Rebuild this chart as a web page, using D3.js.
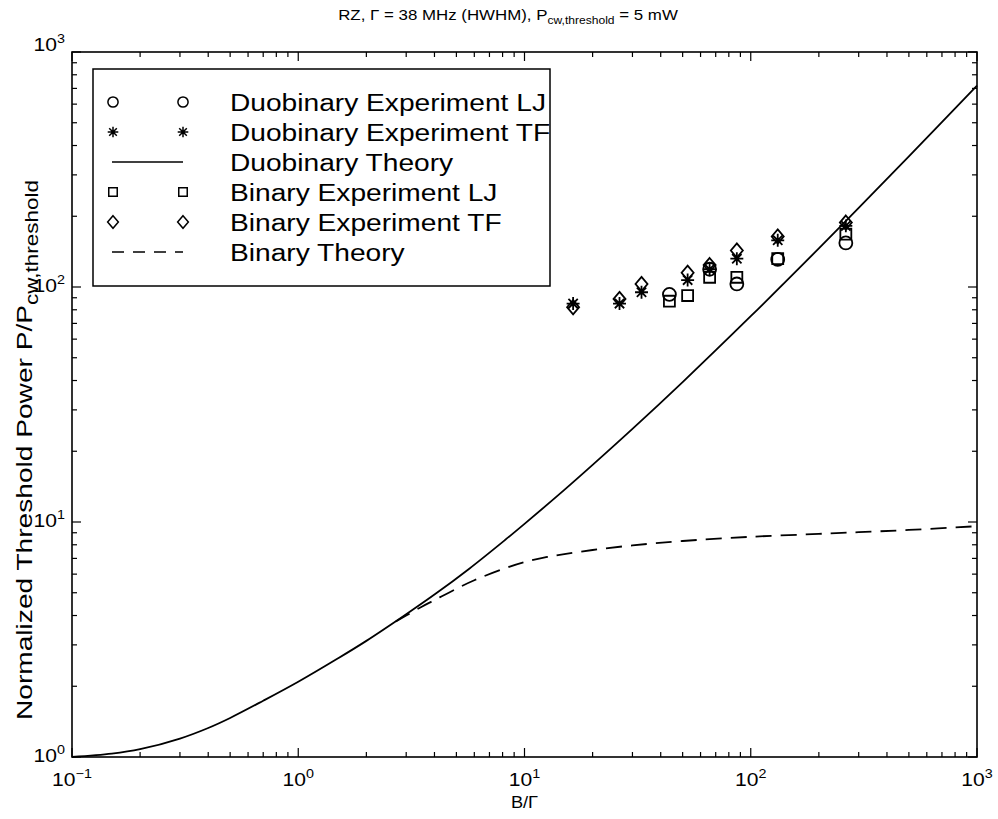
<!DOCTYPE html>
<html>
<head>
<meta charset="utf-8">
<script src="https://cdn.jsdelivr.net/npm/d3@7"></script>
<style>
  body { margin: 0; background: #fff; }
  text { font-family: "Liberation Sans", Arial, Helvetica, sans-serif; fill: #000; }
</style>
</head>
<body>
<svg id="chart" width="998" height="819"></svg>
<script>
// Measured threshold powers (normalized) versus B/Gamma
const duoLJ_x = [43.7, 65.8, 86.8, 131.6, 263.2];
const duoLJ_y = [93, 119, 103, 131, 154];
const duoTF_x = [16.4, 26.3, 32.9, 52.6, 65.8, 86.8, 131.6, 263.2];
const duoTF_y = [85, 85, 95, 107, 119, 132, 158, 182];
const binLJ_x = [43.7, 52.6, 65.8, 86.8, 131.6, 263.2];
const binLJ_y = [87, 92, 110, 110, 132, 168];
const binTF_x = [16.4, 26.3, 32.9, 52.6, 65.8, 86.8, 131.6, 263.2];
const binTF_y = [82, 89, 103, 115, 124, 143, 164, 188];

// Theory curves
const duoTheory_x = [0.1, 0.15, 0.2, 0.3, 0.4, 0.5, 0.7, 1, 1.5, 2, 3, 4, 5.7, 8.2, 10, 15, 20, 30, 50, 100, 200, 300, 500, 1000];
const duoTheory_y = [1.0, 1.033, 1.079, 1.198, 1.329, 1.466, 1.735, 2.09, 2.63, 3.12, 4.05, 4.91, 6.33, 8.38, 9.82, 13.7, 17.5, 24.9, 39.4, 75.1, 146, 217, 360, 720];
const binTheory_x = [2.7, 3, 3.5, 4, 5, 6, 8, 10, 12.6, 15, 20, 30, 50, 100, 200, 300, 500, 1000];
const binTheory_y = [3.77, 4.0, 4.35, 4.65, 5.2, 5.65, 6.3, 6.75, 7.1, 7.3, 7.6, 7.95, 8.3, 8.65, 8.9, 9.05, 9.25, 9.6];

// Axis labels and ticks
const titleMain = "RZ, \u0393 = 38 MHz (HWHM), P";
const titleSub = "cw,threshold";
const titleEnd = " = 5 mW";
const xLabel = "B/\u0393";
const yLabelMain = "Normalized Threshold Power P/P";
const yLabelSub = "cw,threshold";
const xTickExps = [-1, 0, 1, 2, 3];
const yTickExps = [0, 1, 2, 3];
const legendLabels = ["Duobinary Experiment LJ", "Duobinary Experiment TF", "Duobinary Theory",
                      "Binary Experiment LJ", "Binary Experiment TF", "Binary Theory"];

const svg = d3.select("#chart");
const L = 72, R = 977, T = 52, B = 757;
const SX = 1.14; // glyphs run wide along the baseline

const x = d3.scaleLog().domain([0.1, 1000]).range([L, R]);
const y = d3.scaleLog().domain([1, 1000]).range([B, T]);

// Marker symbol types
const circleType = { draw(ctx, s) { const r = Math.sqrt(s); ctx.moveTo(r, 0); ctx.arc(0, 0, r, 0, 2 * Math.PI); } };
const squareType = { draw(ctx, s) { const h = Math.sqrt(s); ctx.rect(-h, -h, 2 * h, 2 * h); } };
const diamondType = { draw(ctx, s) { const h = Math.sqrt(s); const w = h * 0.85; ctx.moveTo(0, -h); ctx.lineTo(w, 0); ctx.lineTo(0, h); ctx.lineTo(-w, 0); ctx.closePath(); } };
const starType = { draw(ctx, s) { const r = Math.sqrt(s); const d = r * 0.72;
  ctx.moveTo(-r, 0); ctx.lineTo(r, 0); ctx.moveTo(0, -r); ctx.lineTo(0, r);
  ctx.moveTo(-d, -d); ctx.lineTo(d, d); ctx.moveTo(-d, d); ctx.lineTo(d, -d); } };

// Frame and ticks (inward, on all four sides)
const axisG = svg.append("g").attr("stroke", "#000").attr("fill", "none");
axisG.append("rect").attr("x", L).attr("y", T).attr("width", R - L).attr("height", B - T).attr("stroke-width", 1.6);

const xMinor = [], yMinor = [];
for (let e = -1; e < 3; e++) for (let m = 2; m <= 9; m++) xMinor.push(m * Math.pow(10, e));
for (let e = 0; e < 3; e++) for (let m = 2; m <= 9; m++) yMinor.push(m * Math.pow(10, e));
const majLen = 9, minLen = 5;
function xTick(v, len) {
  const px = x(v);
  axisG.append("line").attr("x1", px).attr("x2", px).attr("y1", B).attr("y2", B - len).attr("stroke-width", 1.2);
  axisG.append("line").attr("x1", px).attr("x2", px).attr("y1", T).attr("y2", T + len).attr("stroke-width", 1.2);
}
function yTick(v, len) {
  const py = y(v);
  axisG.append("line").attr("x1", L).attr("x2", L + len).attr("y1", py).attr("y2", py).attr("stroke-width", 1.2);
  axisG.append("line").attr("x1", R).attr("x2", R - len).attr("y1", py).attr("y2", py).attr("stroke-width", 1.2);
}
xTickExps.forEach(e => xTick(Math.pow(10, e), majLen));
xMinor.forEach(v => xTick(v, minLen));
yTickExps.forEach(e => yTick(Math.pow(10, e), majLen));
yMinor.forEach(v => yTick(v, minLen));

// Tick labels as powers of ten
function powerLabel(g, exp, anchor, size) {
  const t = g.append("text").attr("text-anchor", anchor).style("font-size", size + "px");
  t.append("tspan").text("10");
  t.append("tspan").attr("dy", -size * 0.45).style("font-size", (size * 0.68) + "px").text(String(exp).replace("-", "\u2212"));
  return t;
}
const tickSize = 18.5;
xTickExps.forEach(e => {
  const g = svg.append("g").attr("transform", `translate(${x(Math.pow(10, e))},${B + 29}) scale(${SX},1)`);
  powerLabel(g, e, "middle", tickSize);
});
yTickExps.forEach(e => {
  const py = y(Math.pow(10, e));
  const base = py <= T + 1 ? T - 1 : py + 5; // top label sits on the frame
  const g = svg.append("g").attr("transform", `translate(${L - 7},${base}) scale(${SX},1)`);
  powerLabel(g, e, "end", tickSize);
});

// Title
{
  const g = svg.append("g").attr("transform", `translate(${508},${20}) scale(${SX},1)`);
  const t = g.append("text").attr("text-anchor", "middle").style("font-size", "14.8px");
  t.append("tspan").text(titleMain);
  t.append("tspan").attr("dy", 4).style("font-size", "10.6px").text(titleSub);
  t.append("tspan").attr("dy", -4).text(titleEnd);
}
// X label
svg.append("g").attr("transform", `translate(${(L + R) / 2},${B + 51}) scale(${SX},1)`)
  .append("text").attr("text-anchor", "middle").style("font-size", "16px").text(xLabel);
// Y label
{
  const g = svg.append("g").attr("transform", `translate(${32},${450}) rotate(-90) scale(1.25,1)`);
  const t = g.append("text").attr("text-anchor", "middle").style("font-size", "22.5px");
  t.append("tspan").text(yLabelMain);
  t.append("tspan").attr("dy", 6).style("font-size", "18px").text(yLabelSub);
}

// Curves
const line = d3.line().x(d => x(d[0])).y(d => y(d[1])).curve(d3.curveCatmullRom.alpha(0.5));
svg.append("path").datum(duoTheory_x.map((v, i) => [v, duoTheory_y[i]]))
  .attr("d", line).attr("fill", "none").attr("stroke", "#000").attr("stroke-width", 1.8);
svg.append("path").datum(binTheory_x.map((v, i) => [v, binTheory_y[i]]))
  .attr("d", line).attr("fill", "none").attr("stroke", "#000").attr("stroke-width", 1.8)
  .attr("stroke-dasharray", "16,9");

// Markers
const series = [
  { xs: duoLJ_x, ys: duoLJ_y, type: circleType, size: 42 },
  { xs: duoTF_x, ys: duoTF_y, type: starType, size: 42 },
  { xs: binLJ_x, ys: binLJ_y, type: squareType, size: 30 },
  { xs: binTF_x, ys: binTF_y, type: diamondType, size: 50 },
];
series.forEach(s => {
  const sym = d3.symbol().type(s.type).size(s.size);
  svg.append("g").selectAll("path").data(s.xs.map((v, i) => [v, s.ys[i]])).join("path")
    .attr("transform", d => `translate(${x(d[0])},${y(d[1])})`)
    .attr("d", sym).attr("fill", "none").attr("stroke", "#000").attr("stroke-width", 1.8);
});

// Legend
{
  const lg = svg.append("g");
  lg.append("rect").attr("x", 93).attr("y", 69).attr("width", 457).attr("height", 217)
    .attr("fill", "#fff").attr("stroke", "#000").attr("stroke-width", 1.5);
  const kinds = [
    { sym: circleType, size: 26 }, { sym: starType, size: 28 }, { line: null },
    { sym: squareType, size: 18 }, { sym: diamondType, size: 40 }, { line: "12,9" }
  ];
  kinds.forEach((k, i) => {
    const cy = 102 + 30 * i;
    if (k.sym) {
      const sym = d3.symbol().type(k.sym).size(k.size);
      [113, 183].forEach(cx => lg.append("path").attr("transform", `translate(${cx},${cy})`)
        .attr("d", sym).attr("fill", "none").attr("stroke", "#000").attr("stroke-width", 1.5));
    } else {
      lg.append("line").attr("x1", 112).attr("x2", 183).attr("y1", cy).attr("y2", cy)
        .attr("stroke", "#000").attr("stroke-width", 1.6).attr("stroke-dasharray", k.line);
    }
    lg.append("g").attr("transform", `translate(230,${cy + 9}) scale(${SX},1)`)
      .append("text").style("font-size", "24.7px").text(legendLabels[i]);
  });
}
</script>
</body>
</html>
